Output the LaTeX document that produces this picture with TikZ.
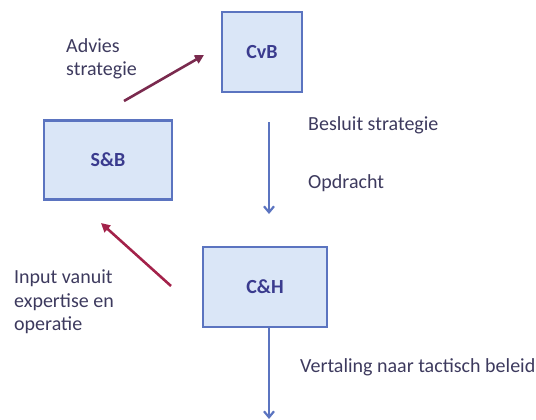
\documentclass[tikz,border=0pt]{standalone}
\usepackage{fontspec}
\setmainfont{Carlito}
\usetikzlibrary{arrows.meta}

\definecolor{boxfill}{HTML}{DAE6F7}
\definecolor{boxline}{HTML}{5B74C0}
\definecolor{boxtext}{HTML}{3A3B8E}
\definecolor{labeltext}{HTML}{3D3A5E}
\definecolor{advice}{HTML}{7A2A4E}
\definecolor{input}{HTML}{A3224A}

\def\xa{269}
\def\xb{308}
\def\txt{\fontsize{20}{23.5}\selectfont}

\tikzset{
  orgbox/.style={rectangle, draw=boxline, fill=boxfill, line width=2.2pt,
    text=boxtext, font=\txt\bfseries},
  note/.style={anchor=north west, inner sep=0pt, align=left, text=labeltext, font=\txt},
  flow/.style={draw=boxline, line width=2.2pt, -{Straight Barb[length=6pt,width=10pt]}},
  feed/.style={line width=2.6pt, -{Triangle[length=9pt,width=9pt]}}
}

\begin{document}
\begin{tikzpicture}[x=1pt, y=-1pt]
    \useasboundingbox (0,0) rectangle (536,420);

    \node[orgbox, minimum width=80pt, minimum height=80pt]  (cvb) at (262, 52)  {CvB};
    \node[orgbox, minimum width=128pt, minimum height=79pt] (sb)  at (108, 160) {S\&B};
    \node[orgbox, minimum width=124pt, minimum height=80pt] (ch)  at (265, 287) {C\&H};

    \node[note] (advies)  at (66, 38)   {Advies\\strategie};
    \node[note] (besluit) at (\xb, 116) {Besluit strategie};
    \node[note] (opdr)    at (\xb, 174) {Opdracht};
    \node[note] (input)   at (14, 270)  {Input vanuit\\expertise en\\operatie};
    \node[note] (vert)    at (300, 358) {Vertaling naar tactisch beleid};

    \coordinate (cvb_out) at (\xa, 122);
    \coordinate (cvb_end) at (\xa, 214);
    \coordinate (ch_end)  at (\xa, 419);
    \coordinate (adv_beg) at (124, 101);
    \coordinate (adv_end) at (204, 55);
    \coordinate (inp_beg) at (171, 286);
    \coordinate (inp_end) at (101, 223);

    \draw[flow] (cvb_out) -- (cvb_end);
    \draw[flow] (ch.south -| cvb_out) -- (ch_end);
    \draw[feed, advice] (adv_beg) -- (adv_end);
    \draw[feed, input] (inp_beg) -- (inp_end);
\end{tikzpicture}
\end{document}
